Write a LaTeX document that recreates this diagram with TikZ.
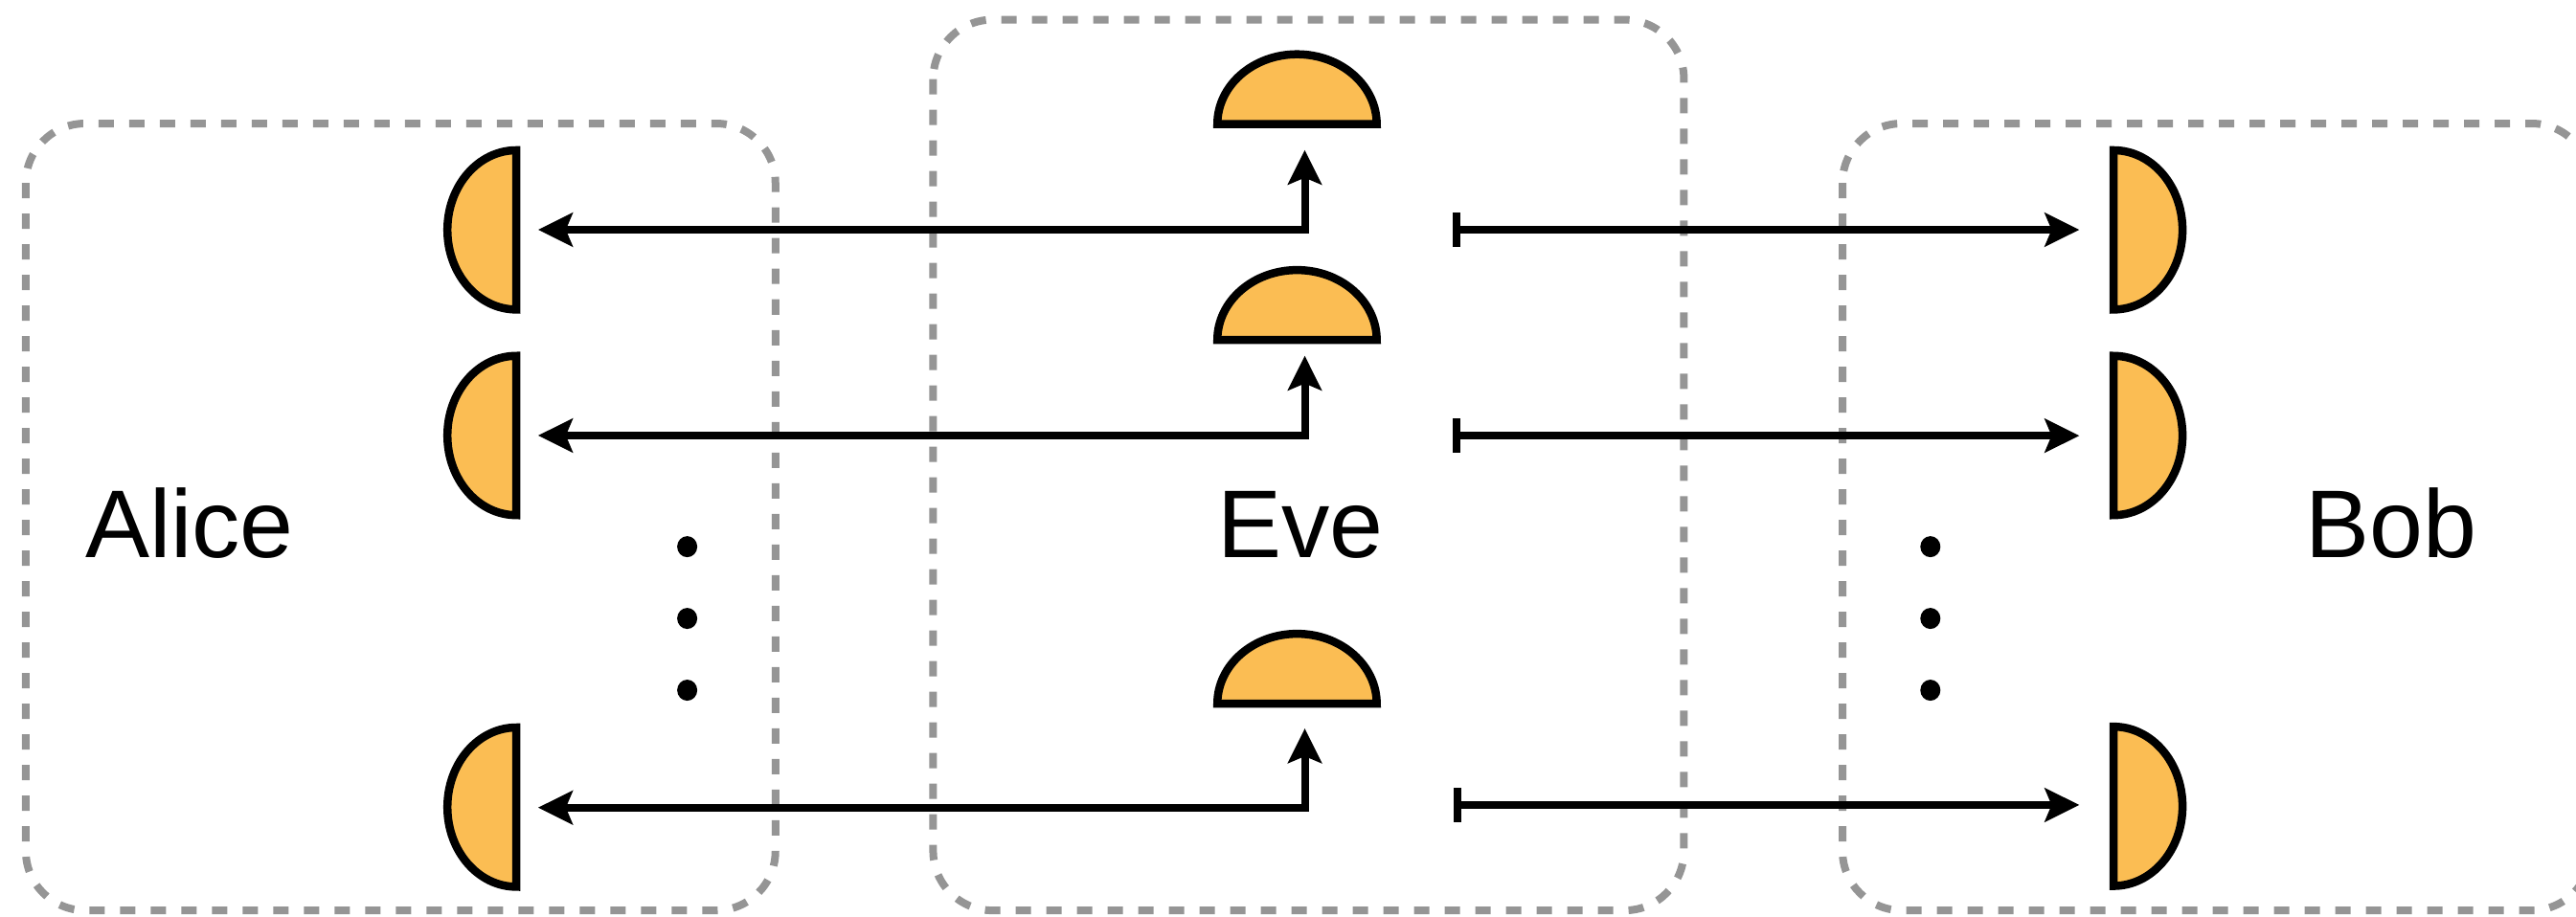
\documentclass[tikz,border=0pt]{standalone}
\usepackage{fontspec}
\setmainfont{Liberation Sans}
\usetikzlibrary{arrows.meta}
\definecolor{detfill}{RGB}{251,189,83}
\definecolor{boxgray}{RGB}{149,149,149}
\tikzset{
  party/.style={draw=boxgray, line width=0.8mm, dash pattern=on 1.6mm off 1.6mm, rounded corners=6.2mm},
  detector/.style={draw=black, fill=detfill, line width=0.85mm, line join=miter},
  beam/.style={draw=black, line width=0.8mm, line join=miter},
  head/.tip={Stealth[length=3.6mm, width=3.5mm, inset=0.7mm]},
  startbar/.tip={Bar[width=3.6mm]},
  partyname/.style={inner sep=0pt, anchor=base, font=\fontsize{28.6pt}{34pt}\selectfont},
  dot/.style={fill=black},
}
\begin{document}
\begin{tikzpicture}[x=0.17156mm, y=-0.17156mm]
\useasboundingbox (0,0) rectangle (1568,558);
\clip (0,0) rectangle (1568,558);

% the three parties
\draw[party] (15.7,75.2) rectangle (472,554.4);
\draw[party] (568,12) rectangle (1025,554.4);
\draw[party] (1121.5,75.2) rectangle (1577,554.4);

\node[partyname] (alice) at (115.4,339.6) {Alice};
\node[partyname] (eve) at (791.7,339.6) {Eve};
\node[partyname] (bob) at (1455.2,339.6) {Bob};

% detector positions (centre of the flat side)
\coordinate (A1) at (314.3,140);
\coordinate (A2) at (314.3,265.2);
\coordinate (A3) at (314.3,491.5);
\coordinate (B1) at (1286.5,140);
\coordinate (B2) at (1286.5,265.2);
\coordinate (B3) at (1286.5,491);
\coordinate (E1) at (789.5,75.6);
\coordinate (E2) at (789.5,207);
\coordinate (E3) at (789.5,428.5);

% Alice's detectors, open to the right
\foreach \d in {A1,A2,A3}
  \draw[detector] ([yshift=8.32mm]\d) -- ([yshift=-8.32mm]\d)
    arc[start angle=270, end angle=90, x radius=7.2mm, y radius=8.32mm] -- cycle;
% Bob's detectors, open to the left
\foreach \d in {B1,B2,B3}
  \draw[detector] ([yshift=8.32mm]\d) -- ([yshift=-8.32mm]\d)
    arc[start angle=-90, end angle=90, x radius=7.2mm, y radius=8.32mm] -- cycle;
% Eve's detectors, open downwards
\foreach \d in {E1,E2,E3}
  \draw[detector] ([xshift=-8.32mm]\d) -- ([xshift=8.32mm]\d)
    arc[start angle=0, end angle=180, x radius=8.32mm, y radius=7.3mm] -- cycle;

% beam ends
\coordinate (a1) at (327.5,139.9);
\coordinate (a2) at (327.5,265.2);
\coordinate (a3) at (327.5,491.8);
\coordinate (e1) at (794.2,91.3);
\coordinate (e2) at (794.2,216.6);
\coordinate (e3) at (794.2,443.6);
\coordinate (s1) at (884.3,139.9);
\coordinate (s2) at (884.3,265.3);
\coordinate (s3) at (885,490.2);
\coordinate (b1) at (1265.7,139.9);
\coordinate (b2) at (1265.7,265.3);
\coordinate (b3) at (1265.7,490.2);

% Eve's links to Alice
\foreach \i in {1,2,3}
  \draw[beam, head-head] (a\i) -| (e\i);
% source to Bob
\foreach \i in {1,2,3}
  \draw[beam, startbar-head] (s\i) -- (b\i);

% vertical ellipses
\foreach \y in {332.9,376.6,420.3} {
  \fill[dot] (418.3,\y) circle[x radius=1.05mm, y radius=1.1mm];
  \fill[dot] (1175,\y) circle[x radius=1.05mm, y radius=1.1mm];
}
\end{tikzpicture}
\end{document}
